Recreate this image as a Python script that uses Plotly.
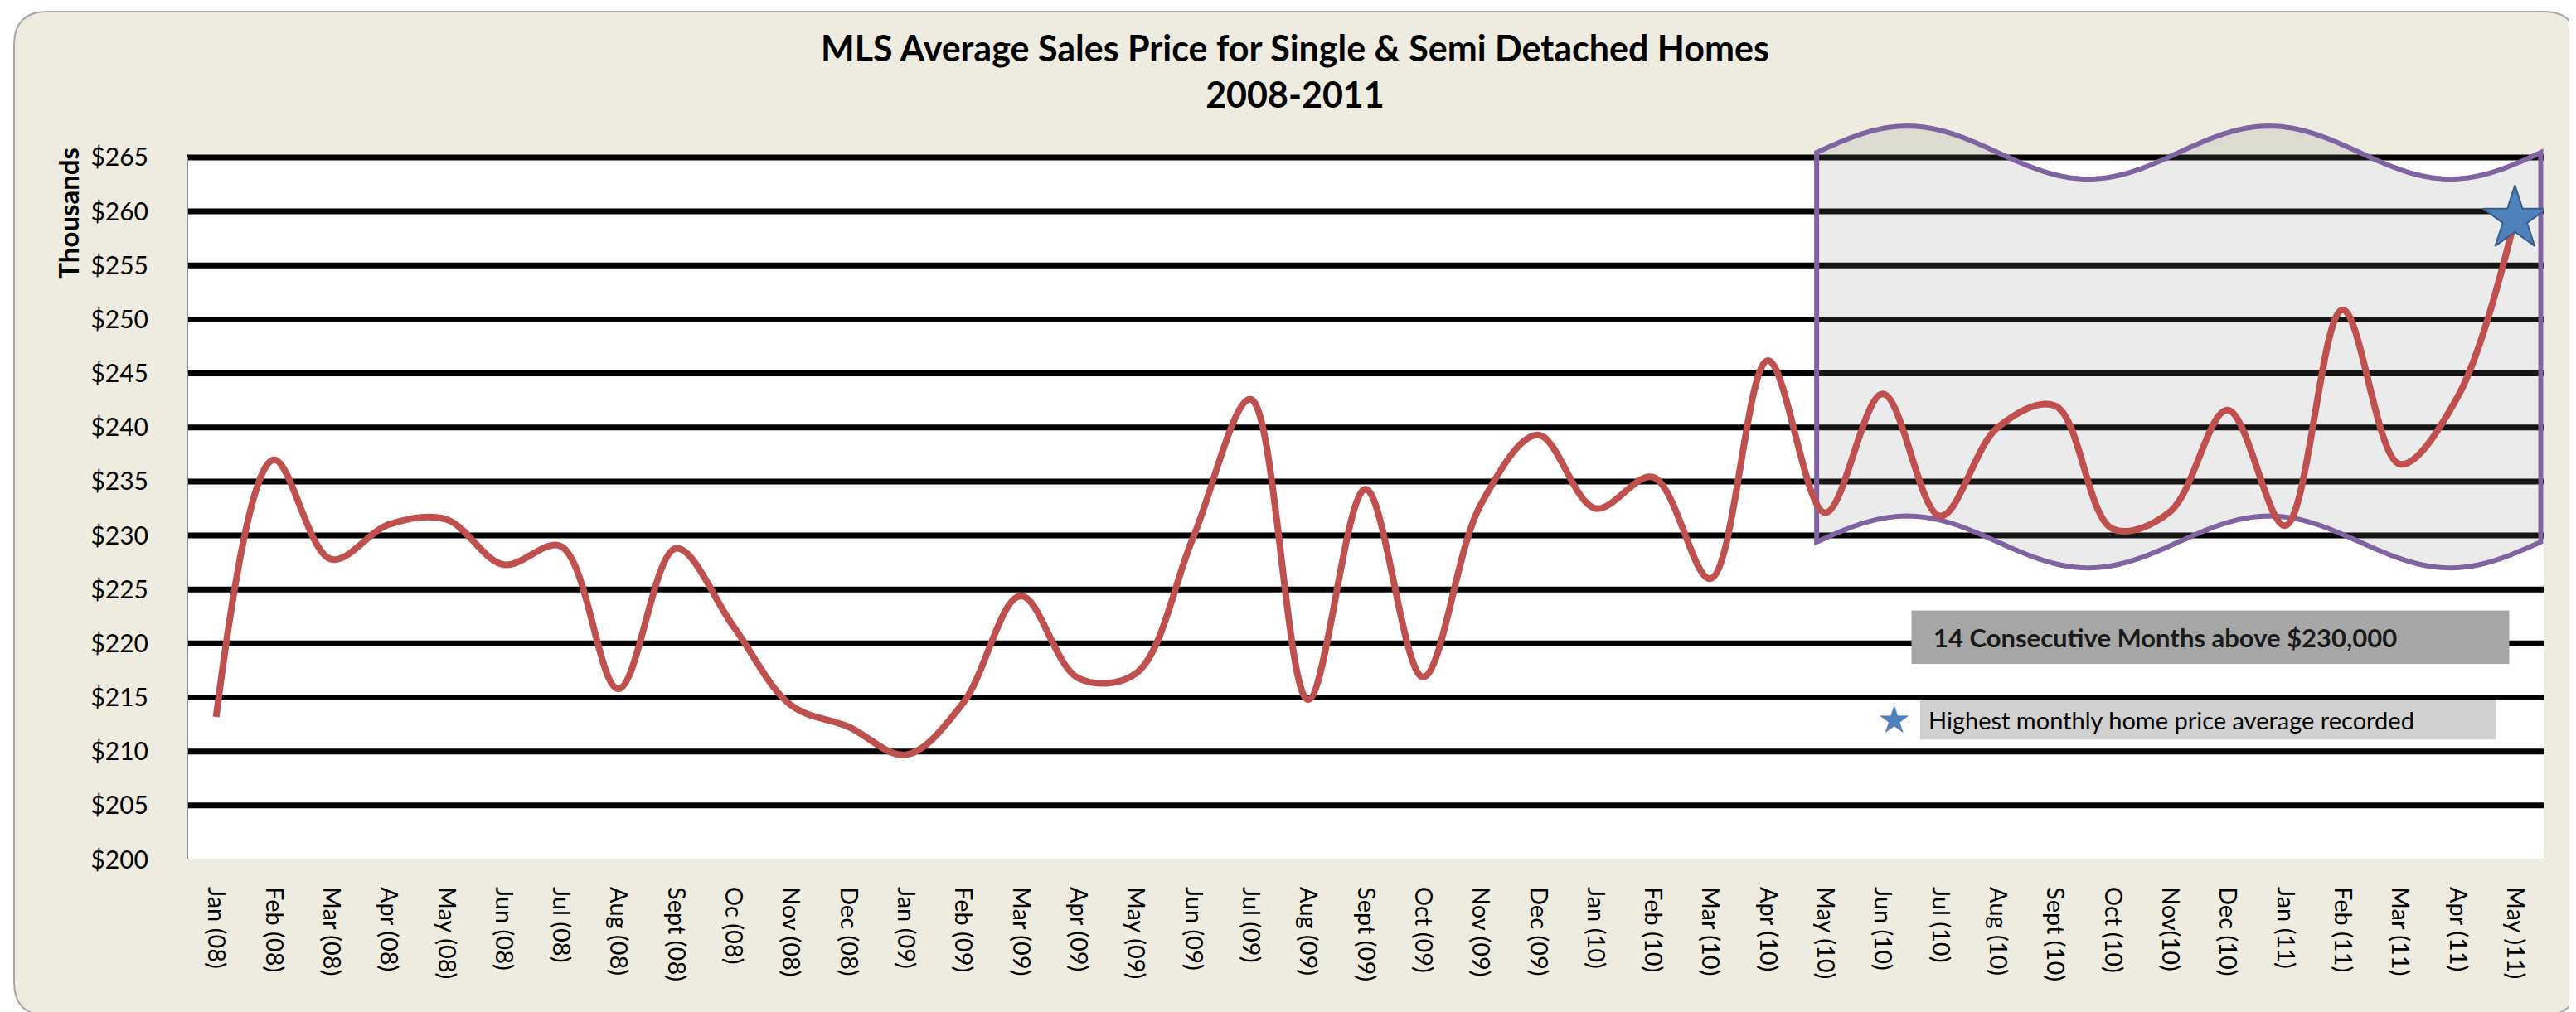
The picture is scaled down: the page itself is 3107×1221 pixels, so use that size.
import numpy as np
import plotly.graph_objects as go

# ---------------- data ----------------
MONTHS = [
    "Jan (08)", "Feb (08)", "Mar (08)", "Apr (08)", "May (08)", "Jun (08)",
    "Jul (08)", "Aug (08)", "Sept (08)", "Oc (08)", "Nov (08)", "Dec (08)",
    "Jan (09)", "Feb (09)", "Mar (09)", "Apr (09)", "May (09)", "Jun (09)",
    "Jul (09)", "Aug (09)", "Sept (09)", "Oct (09)", "Nov (09)", "Dec (09)",
    "Jan (10)", "Feb (10)", "Mar (10)", "Apr (10)", "May (10)", "Jun (10)",
    "Jul (10)", "Aug (10)", "Sept (10)", "Oct (10)", "Nov(10)", "Dec (10)",
    "Jan (11)", "Feb (11)", "Mar (11)", "Apr (11)", "May )11)",
]
PRICES = [  # thousands of dollars
    213.2, 237.0, 227.8, 231.0, 231.5, 227.3, 229.0, 215.8, 228.8, 221.6, 214.3, 212.3,
    209.7, 214.5, 224.4, 216.8, 217.2, 229.8, 242.6, 214.8, 234.3, 216.9, 232.8, 239.3,
    232.5, 235.4, 226.0, 246.2, 232.1, 243.1, 231.8, 240.0, 242.0, 230.6, 232.2, 241.6,
    230.9, 250.9, 236.6, 242.8, 259.3,
]
Y_TICKS = [200, 205, 210, 215, 220, 225, 230, 235, 240, 245, 250, 255, 260, 265]
Y_TICK_TEXT = ["$" + str(v) for v in Y_TICKS]
TITLE = "MLS Average Sales Price for Single & Semi Detached Homes<br>2008-2011"
Y_LABEL = "Thousands"
NOTE_STREAK = "14 Consecutive Months above $230,000"
NOTE_RECORD = "Highest monthly home price average recorded"

# ---------------- layout geometry ----------------
W, H = 3107, 1221
ML, MR, MT, MB = 218, 47, 135, 192
PW = W - ML - MR
PH = H - MT - MB
Y_MIN, Y_TOP = 200, 268.6
FONT = "Lato, 'Open Sans', 'Liberation Sans', sans-serif"

BEIGE = "#EEECE1"
RED = "#C0504D"
PURPLE = "#8064A2"
STAR_BLUE = "#4F81BD"


def paper_x(px):
    return (px - ML) / PW


def paper_y(py):
    return (H - MB - py) / PH


xs = list(range(len(MONTHS)))

fig = go.Figure()

# price line
fig.add_trace(go.Scatter(
    x=xs, y=PRICES, mode="lines",
    line=dict(color=RED, width=8, shape="spline", smoothing=1.0),
    hoverinfo="skip",
))
# record star on the last month
fig.add_trace(go.Scatter(
    x=[xs[-1]], y=[PRICES[-1]], mode="markers",
    marker=dict(symbol="star", size=58, color=STAR_BLUE,
                line=dict(color="#385D8A", width=2)),
    hoverinfo="skip",
))

shapes = []
# outer rounded panel
x0, x1 = paper_x(9), paper_x(3100)
y0, y1 = paper_y(1217), paper_y(6)
rx, ry = 40 / PW, 40 / PH
panel = (f"M {x0+rx},{y0} L {x1-rx},{y0} Q {x1},{y0} {x1},{y0+ry} "
         f"L {x1},{y1-ry} Q {x1},{y1} {x1-rx},{y1} L {x0+rx},{y1} "
         f"Q {x0},{y1} {x0},{y1-ry} L {x0},{y0+ry} Q {x0},{y0} {x0+rx},{y0} Z")
shapes.append(dict(type="path", xref="paper", yref="paper", path=panel,
                   fillcolor=BEIGE, line=dict(color="#A6A6A6", width=2),
                   layer="below"))
# white plot background
shapes.append(dict(type="rect", xref="paper", yref="y", x0=0, x1=1,
                   y0=Y_TICKS[0], y1=Y_TICKS[-1], fillcolor="white",
                   line=dict(width=0), layer="below"))
# heavy black gridlines
for v in Y_TICKS[1:]:
    shapes.append(dict(type="line", xref="paper", yref="y", x0=0, x1=1,
                       y0=v, y1=v, line=dict(color="black", width=7),
                       layer="below"))
# thin axis lines
shapes.append(dict(type="line", xref="paper", yref="y", x0=0, x1=1,
                   y0=Y_TICKS[0], y1=Y_TICKS[0],
                   line=dict(color="#8C8C8C", width=2), layer="below"))
shapes.append(dict(type="line", xref="paper", yref="y", x0=0, x1=0,
                   y0=Y_TICKS[0], y1=Y_TICKS[-1],
                   line=dict(color="#8C8C8C", width=2), layer="below"))

# wavy highlight band (decoration)
XL, XR = 27.85, 40.45
t = np.linspace(0, 1, 161)
wx = XL + t * (XR - XL)
top = 265.45 + 2.45 * np.sin(4 * np.pi * t)
bot = 229.4 + 2.4 * np.sin(4 * np.pi * t)
pts = [f"{a:.4f},{b:.4f}" for a, b in zip(wx, top)]
pts += [f"{a:.4f},{b:.4f}" for a, b in zip(wx[::-1], bot[::-1])]
wave = "M " + " L ".join(pts) + " Z"
shapes.append(dict(type="path", xref="x", yref="y", path=wave,
                   fillcolor="rgba(128,128,128,0.16)",
                   line=dict(color=PURPLE, width=6), layer="between"))

# note boxes
shapes.append(dict(type="rect", xref="x", yref="y", x0=29.5, x1=39.9,
                   y0=218.1, y1=223.05, fillcolor="#A6A6A6",
                   line=dict(width=0), layer="above"))
shapes.append(dict(type="rect", xref="x", yref="y", x0=29.65, x1=39.67,
                   y0=211.1, y1=214.8, fillcolor="#D0D0D0",
                   line=dict(width=0), layer="above"))

annotations = [
    dict(text=TITLE, xref="paper", yref="paper", x=paper_x(W / 2),
         y=paper_y(78), xanchor="center", yanchor="middle", showarrow=False,
         align="center",
         font=dict(family=FONT, size=43, color="black", weight="bold")),
    dict(text=Y_LABEL, xref="paper", yref="y", x=paper_x(74), y=259.8,
         textangle=-90, showarrow=False, xanchor="center", yanchor="middle",
         font=dict(family=FONT, size=33, color="black", weight="bold")),
    dict(text=NOTE_STREAK, xref="x", yref="y", x=29.86, y=220.6,
         xanchor="left", yanchor="middle", showarrow=False,
         font=dict(family=FONT, size=31, color="#1A1A1A", weight="bold")),
    dict(text=NOTE_RECORD, xref="x", yref="y", x=29.76, y=212.95,
         xanchor="left", yanchor="middle", showarrow=False,
         font=dict(family=FONT, size=29, color="black")),
    dict(text="\u2605", xref="x", yref="y", x=29.2, y=212.95,
         xanchor="center", yanchor="middle", showarrow=False,
         font=dict(family="DejaVu Sans", size=46, color=STAR_BLUE)),
]

fig.update_layout(
    width=W, height=H,
    margin=dict(l=ML, r=MR, t=MT, b=MB, pad=0),
    paper_bgcolor="white",
    plot_bgcolor="rgba(0,0,0,0)",
    showlegend=False,
    xaxis=dict(range=[-0.5, len(MONTHS) - 0.5], tickvals=xs, ticktext=MONTHS,
               tickangle=90, showgrid=False, zeroline=False, showline=False,
               ticks="", ticklabelstandoff=32,
               tickfont=dict(family=FONT, size=29, color="black")),
    yaxis=dict(range=[Y_MIN, Y_TOP], tickvals=Y_TICKS, ticktext=Y_TICK_TEXT,
               showgrid=False, zeroline=False, showline=False, ticks="",
               ticklabelstandoff=46,
               tickfont=dict(family=FONT, size=30, color="black")),
    shapes=shapes,
    annotations=annotations,
)

fig.write_html("out.html")
